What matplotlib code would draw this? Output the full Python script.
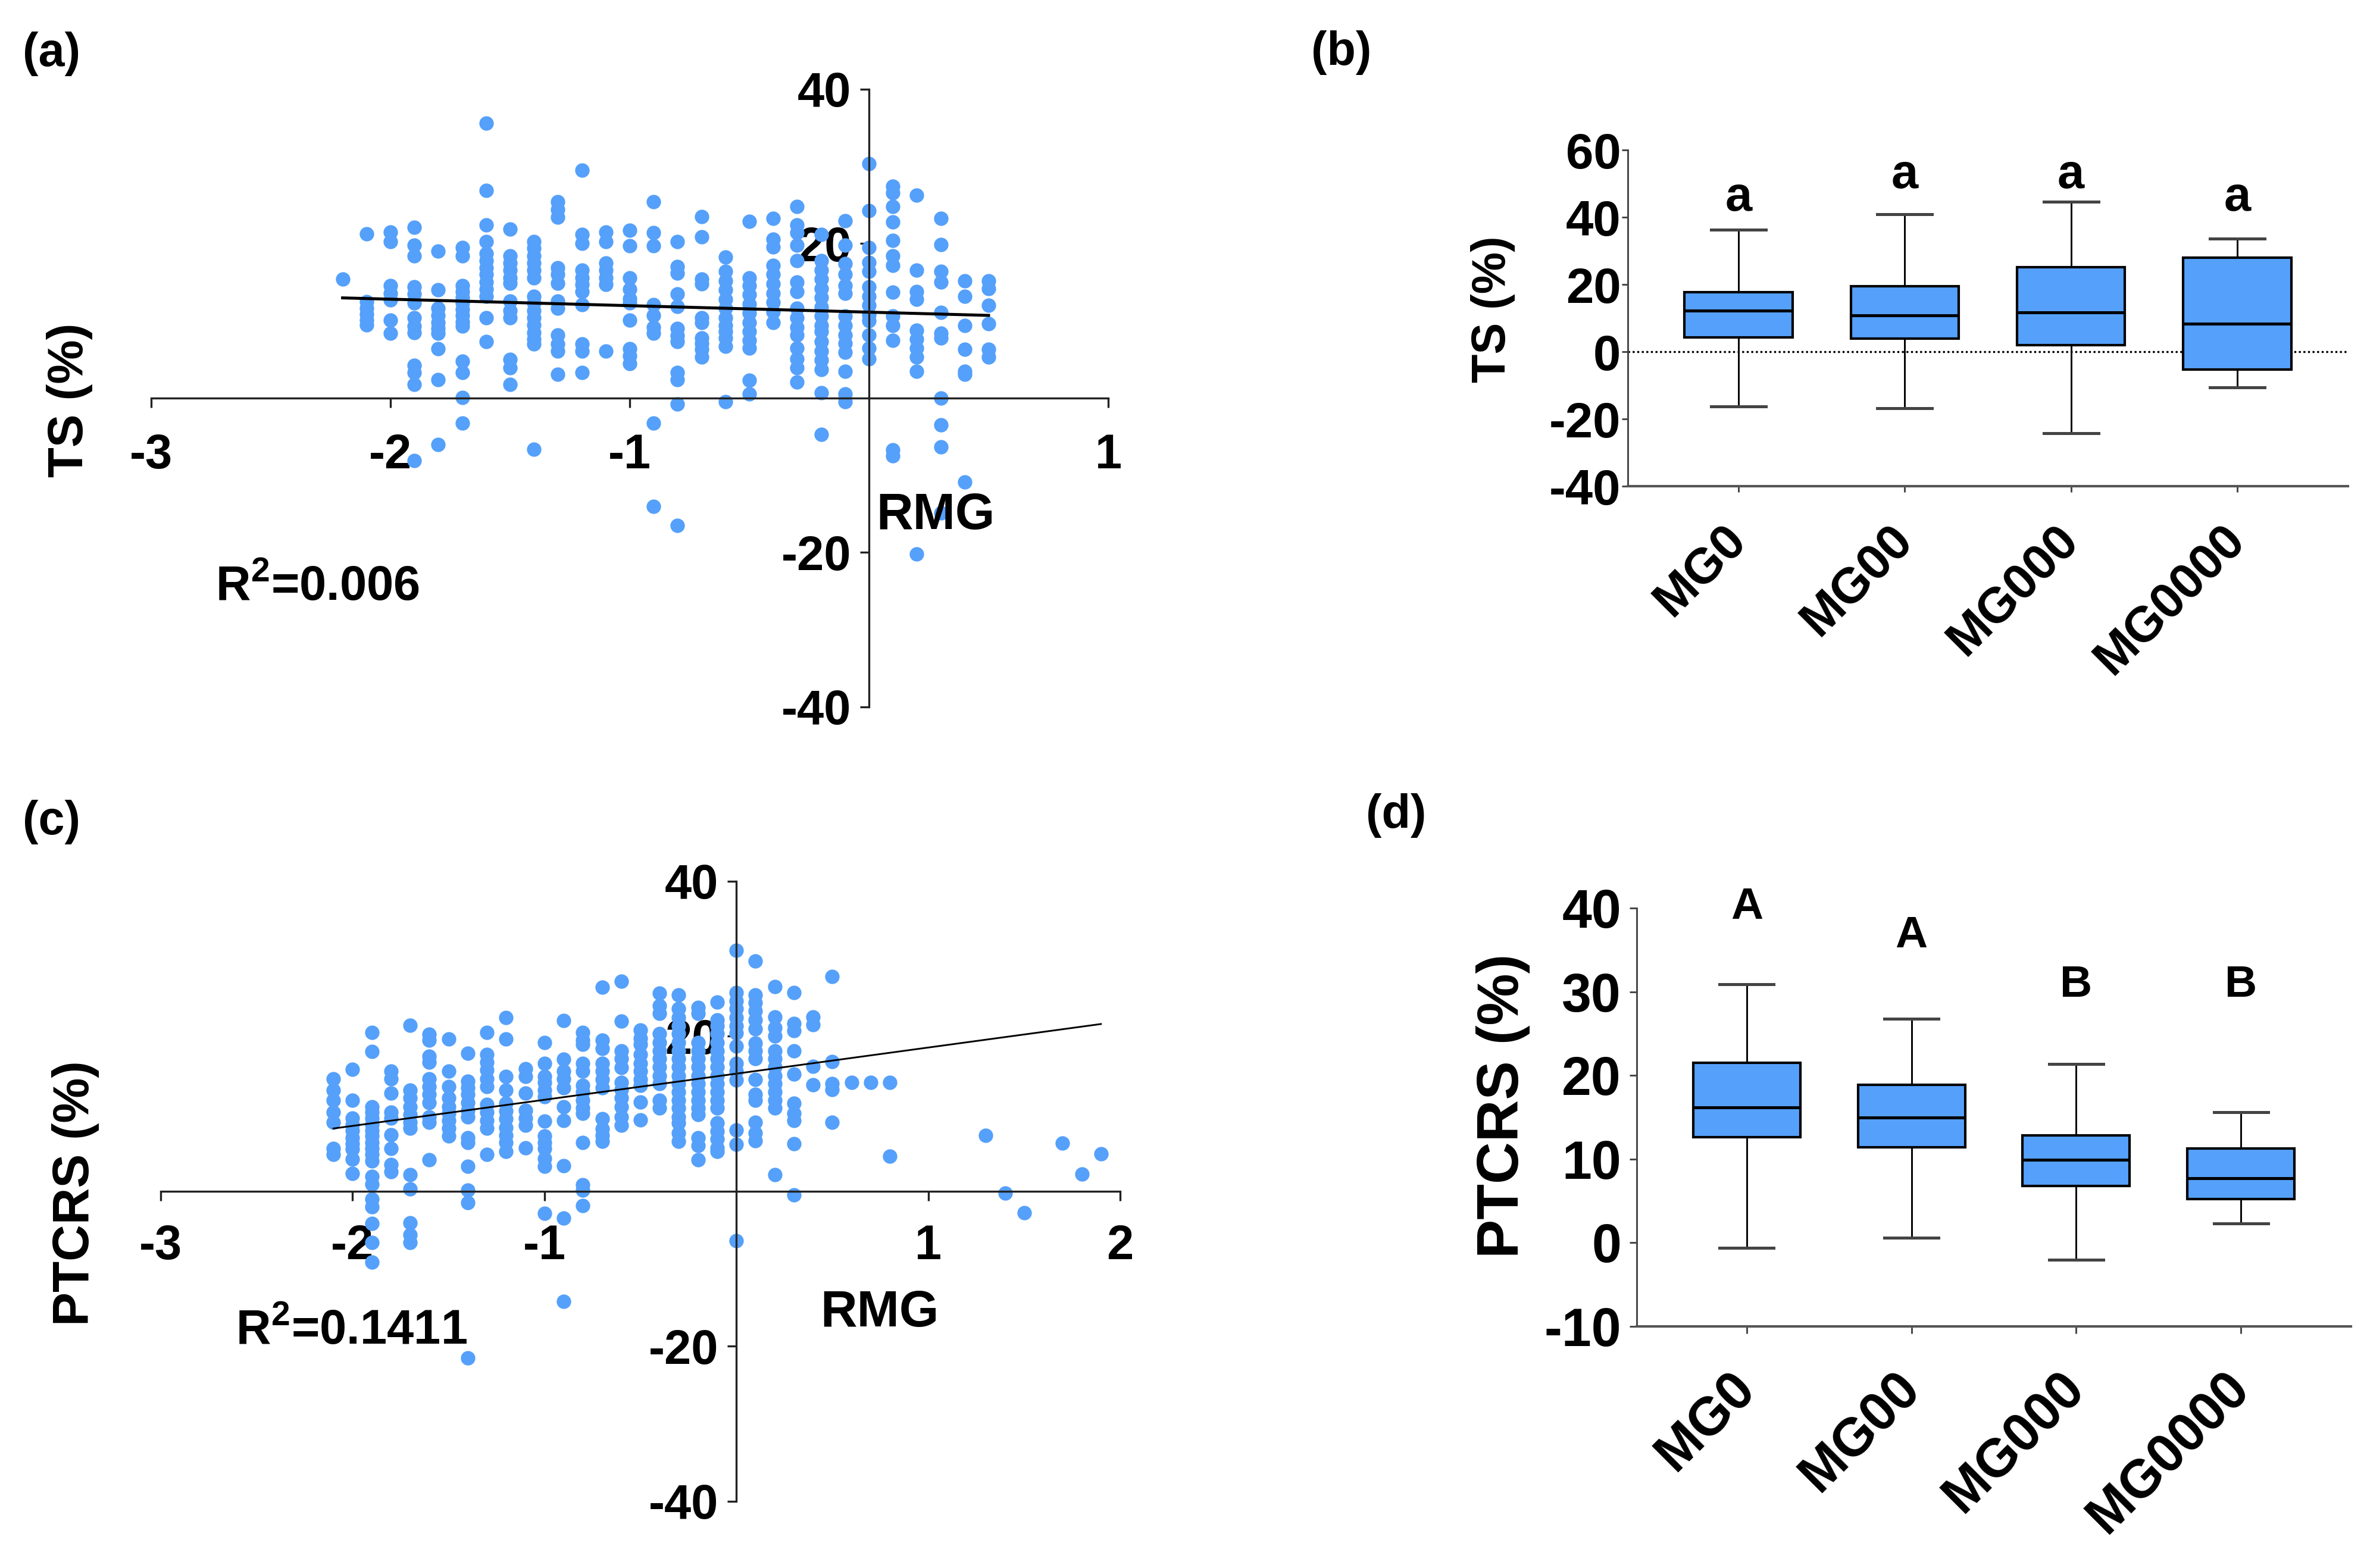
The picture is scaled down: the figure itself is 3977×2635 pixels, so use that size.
import numpy as np
import matplotlib.pyplot as plt

plt.rcParams['font.family'] = ['Liberation Sans', 'DejaVu Sans']
plt.rcParams['font.weight'] = 'bold'
plt.rcParams['axes.unicode_minus'] = False
plt.rcParams['mathtext.fontset'] = 'custom'
plt.rcParams['mathtext.rm'] = 'Liberation Sans:bold'
plt.rcParams['mathtext.bf'] = 'Liberation Sans:bold'

blue = '#55A0FA'

#%% data (a): TS against RMG, one list of TS values per RMG column
rmg_a = [-2.2, -2.1, -2.0, -1.9, -1.8, -1.7, -1.6, -1.5, -1.4, -1.3, -1.2, -1.1, -1.0, -0.9,
         -0.8, -0.7, -0.6, -0.5, -0.4, -0.3, -0.2, -0.1, 0.0, 0.1, 0.2, 0.3, 0.4, 0.5]
ts_a = [
    [15.4],
    [21.3, 12.5, 11.6, 10.9, 10.1, 9.5],
    [21.5, 20.3, 14.6, 13.6, 12.7, 10.1, 8.4],
    [22.1, 19.8, 18.4, 14.4, 13.5, 12.3, 10.4, 9.3, 8.5, 4.2, 3.3, 1.8, -8.1],
    [19.0, 14.0, 11.6, 10.7, 9.8, 9.0, 8.4, 6.4, 2.4, -6.0],
    [19.5, 18.4, 14.6, 13.8, 13.0, 12.3, 11.5, 10.7, 9.9, 9.3, 4.8, 3.3, 0.1, -3.2],
    [35.6, 26.9, 22.4, 20.3, 18.7, 17.8, 16.9, 16.0, 15.0, 14.1, 13.2, 10.4, 7.3],
    [21.9, 18.4, 17.5, 16.6, 15.6, 14.9, 12.6, 11.3, 10.4, 5.0, 3.9, 1.8],
    [20.3, 19.4, 18.4, 17.5, 16.6, 15.6, 13.2, 12.3, 11.3, 10.4, 9.5, 8.5, 7.6, 7.0, -6.6],
    [25.4, 24.4, 23.4, 16.9, 16.0, 14.9, 12.6, 11.6, 8.2, 7.0, 6.1, 3.1],
    [29.5, 21.2, 20.0, 16.6, 15.6, 14.7, 13.8, 12.1, 7.0, 6.1, 3.3],
    [21.5, 20.3, 17.5, 16.6, 15.6, 14.7, 6.1],
    [21.7, 19.7, 15.6, 14.1, 12.9, 12.3, 10.1, 6.4, 5.5, 4.5],
    [25.4, 21.4, 19.7, 12.1, 10.7, 9.2, 8.4, -3.2, -14.0],
    [20.3, 17.0, 16.2, 13.5, 11.9, 9.0, 8.1, 7.3, 3.3, 2.4, -0.8, -16.5],
    [23.5, 20.9, 15.4, 14.8, 10.4, 9.8, 7.8, 7.1, 6.3, 5.3],
    [18.3, 16.4, 15.2, 14.0, 12.8, 11.6, 10.4, 9.4, 8.6, 7.8, 6.7, -0.5],
    [22.9, 15.6, 14.6, 13.4, 12.2, 11.0, 9.8, 8.6, 7.5, 6.5, 2.3, 0.5],
    [23.3, 20.6, 19.6, 17.2, 16.0, 14.8, 13.6, 12.4, 11.2, 9.8],
    [24.8, 22.4, 21.4, 19.8, 17.8, 15.0, 13.8, 11.6, 10.4, 9.2, 8.2, 6.5, 5.1, 3.9, 2.1],
    [21.2, 17.8, 16.6, 15.4, 14.2, 13.0, 11.8, 10.6, 9.4, 8.6, 7.3, 6.1, 4.9, 3.7, 0.7, -4.7],
    [23.0, 19.8, 17.4, 16.0, 14.6, 13.6, 10.6, 9.4, 8.2, 7.1, 5.9, 3.5, 0.5, -0.5],
    [30.4, 24.3, 19.5, 17.6, 16.4, 14.4, 13.2, 12.0, 10.8, 10.0, 8.2, 6.5, 5.1],
    [27.4, 26.6, 24.8, 22.8, 20.4, 18.4, 17.2, 13.7, 10.6, 9.4, 7.5, -6.7, -7.5],
    [26.3, 16.6, 13.8, 12.8, 8.8, 7.6, 6.5, 5.3, 3.5, -20.2],
    [23.3, 19.9, 16.4, 15.0, 11.1, 8.4, 7.8, 0.0, -3.5, -6.3, -14.9],
    [15.2, 13.2, 9.4, 6.3, 3.5, 3.1, -10.9],
    [15.2, 14.2, 12.0, 9.6, 6.3, 5.3],
]
fit_a = (-0.84, 11.13)   # slope, intercept of the drawn regression line
r2_a = '0.006'

#%% data (c): PTCRS against RMG
rmg_c = [-2.1, -2.0, -1.9, -1.8, -1.7, -1.6, -1.5, -1.4, -1.3, -1.2, -1.1, -1.0, -0.9, -0.8,
         -0.7, -0.6, -0.5, -0.4, -0.3, -0.2, -0.1, 0.0, 0.1, 0.2, 0.3, 0.4, 0.5, 0.6, 0.7, 0.8,
         1.3, 1.4, 1.5, 1.7, 1.8, 1.9]
ptcrs_c = [
    [14.5, 13.0, 11.7, 10.2, 8.9, 5.5, 4.7],
    [15.7, 11.7, 9.4, 8.6, 7.8, 6.9, 6.1, 5.4, 4.1, 2.3],
    [20.5, 18.0, 10.9, 10.2, 9.4, 8.6, 7.8, 7.1, 6.3, 5.5, 4.7, 3.9, 1.9, 0.9, -1.0, -2.0, -4.2, -6.6, -9.2],
    [15.5, 14.5, 12.6, 10.2, 9.4, 7.3, 5.5, 3.4, 2.5],
    [21.4, 13.0, 12.0, 10.9, 9.9, 8.9, 8.1, 2.1, 0.3, -4.1, -5.6, -6.6],
    [20.2, 19.5, 17.4, 16.6, 14.5, 13.5, 12.5, 11.4, 9.6, 8.9, 4.0],
    [19.6, 15.5, 13.5, 12.0, 10.9, 10.0, 9.1, 8.1, 7.1],
    [17.8, 14.2, 13.3, 12.5, 11.4, 10.4, 9.6, 6.9, 6.3, 3.2, 0.1, -1.5, -21.5],
    [20.5, 17.6, 16.6, 15.6, 14.5, 13.5, 11.2, 10.2, 9.1, 8.1, 4.7],
    [22.4, 19.6, 14.8, 13.0, 11.3, 10.3, 9.3, 8.2, 7.2, 6.3, 5.1],
    [15.8, 14.8, 12.6, 10.4, 9.4, 8.5, 5.6],
    [19.2, 16.5, 14.8, 14.0, 13.0, 12.2, 9.0, 7.1, 6.3, 5.5, 4.2, 3.2, -2.9],
    [22.0, 17.0, 15.5, 14.5, 13.3, 10.9, 9.1, 3.3, -3.5, -14.2],
    [20.5, 19.5, 18.9, 16.5, 15.5, 13.6, 12.8, 11.7, 10.7, 10.0, 6.3, 0.8, 0.1, -1.9],
    [26.3, 19.5, 18.4, 16.5, 15.5, 14.4, 13.3, 9.3, 8.0, 7.2, 6.4],
    [27.1, 21.9, 18.1, 17.1, 15.9, 14.0, 13.1, 12.0, 10.9, 9.6, 8.5],
    [20.8, 19.7, 18.9, 17.6, 16.5, 15.5, 14.4, 13.6, 11.5, 9.2],
    [25.5, 23.9, 22.9, 20.3, 19.2, 18.1, 17.1, 16.0, 14.9, 13.9, 11.7, 10.7],
    [25.3, 23.5, 22.4, 21.3, 20.3, 19.2, 18.1, 17.1, 16.0, 14.9, 13.9, 12.8, 11.7, 10.7, 9.6, 8.8, 7.5, 6.4],
    [23.7, 22.9, 19.2, 18.1, 17.1, 16.0, 14.9, 13.9, 12.8, 11.7, 10.7, 9.9, 6.9, 5.9, 4.0],
    [24.4, 22.1, 21.3, 20.3, 19.2, 18.1, 17.1, 16.0, 14.9, 13.9, 12.8, 11.7, 10.7, 8.8, 7.7, 6.7, 5.6, 5.1],
    [31.1, 25.6, 24.5, 23.5, 22.4, 21.3, 20.4, 18.7, 16.5, 15.5, 14.3, 7.9, 6.0, -6.4],
    [29.7, 25.3, 24.3, 23.2, 22.1, 20.9, 19.1, 18.1, 17.1, 14.4, 12.5, 11.7, 8.9, 7.5, 6.5],
    [26.4, 22.5, 21.1, 20.0, 18.1, 17.1, 16.0, 14.9, 13.9, 12.8, 11.7, 10.7, 2.1],
    [25.6, 21.6, 20.7, 18.1, 15.1, 11.3, 10.0, 9.1, 6.1, -0.5],
    [22.5, 21.5, 16.1, 13.7],
    [27.7, 16.7, 13.9, 13.1, 8.9],
    [14.0],
    [14.0],
    [14.0, 4.5],
    [7.2],
    [-0.3],
    [-2.8],
    [6.2],
    [2.2],
    [4.8],
]
fit_c = (3.37, 15.15)
r2_c = '0.1411'

#%% data (b) and (d): box plots per group
groups = ['MG0', 'MG00', 'MG000', 'MG0000']

ts_low = [-16.2, -16.8, -24.3, -10.7]
ts_q1 = [4.2, 3.9, 2.0, -5.3]
ts_med = [12.3, 10.8, 11.6, 8.3]
ts_q3 = [17.7, 19.4, 25.1, 27.9]
ts_high = [36.2, 40.8, 44.6, 33.6]
ts_letters = ['a', 'a', 'a', 'a']
ts_letter_y = [45.7, 52.4, 52.4, 45.7]

pt_low = [-0.6, 0.6, -2.0, 2.3]
pt_q1 = [12.6, 11.4, 6.8, 5.2]
pt_med = [16.2, 15.0, 9.9, 7.7]
pt_q3 = [21.5, 18.9, 12.8, 11.3]
pt_high = [30.9, 26.8, 21.4, 15.6]
pt_letters = ['A', 'A', 'B', 'B']
pt_letter_y = [40.1, 36.7, 30.8, 30.8]


def scatter_panel(ax, cols, vals, fit, r2, ylabel, xlim, xticks, lw_fit,
                  ylab_pos, rmg_pos, r2_pos, ylab_size, xpad):
    xs = np.concatenate([[c] * len(v) for c, v in zip(cols, vals)])
    ys = np.concatenate(vals)
    ax.scatter(xs, ys, s=34, color=blue, linewidths=0, zorder=2)
    xx = np.array([xs.min(), xs.max()])
    ax.plot(xx, fit[0] * xx + fit[1], color='black', lw=lw_fit, zorder=2.1)

    ax.set_xlim(*xlim)
    ax.set_ylim(-40, 40)
    for s in ['top', 'right']:
        ax.spines[s].set_visible(False)
    ax.spines['left'].set_position(('data', 0))
    ax.spines['bottom'].set_position(('data', 0))
    for s in ['left', 'bottom']:
        ax.spines[s].set_linewidth(0.8)
        ax.spines[s].set_color('#222222')
    ax.set_xticks(xticks)
    ax.set_yticks([-40, -20, 20, 40])
    ax.tick_params(axis='x', direction='out', length=3.8, width=0.8, pad=xpad - 0.4,
                   labelsize=19.5, color='#222222')
    ax.tick_params(axis='y', direction='out', length=3.6, width=0.8, pad=3.5,
                   labelsize=19.5, color='#222222')
    ax.patch.set_visible(False)

    ax.text(ylab_pos[0], ylab_pos[1], ylabel, transform=ax.transAxes, rotation=90,
            ha='center', va='center', fontsize=ylab_size, fontweight='bold')
    ax.text(rmg_pos[0], rmg_pos[1], 'RMG', transform=ax.transAxes,
            ha='center', va='center', fontsize=20.5, fontweight='bold')
    ax.text(r2_pos[0], r2_pos[1], r'R$^{\mathbf{2}}$=' + r2, transform=ax.transAxes,
            ha='left', va='center', fontsize=19.5, fontweight='bold')


def box_panel(ax, low, q1, med, q3, high, letters, letter_y, ylim, yticks, ylabel,
              tick_size, ylab_size, letter_size, xpad, ypad, tlen):
    stats = [dict(whislo=a, q1=b, med=c, q3=d, whishi=e, fliers=[])
             for a, b, c, d, e in zip(low, q1, med, q3, high)]
    pos = np.arange(1, len(groups) + 1)
    ax.bxp(stats, positions=pos, widths=0.65, patch_artist=True, showfliers=False,
           boxprops=dict(facecolor=blue, edgecolor='black', linewidth=1.0),
           medianprops=dict(color='black', linewidth=1.2),
           whiskerprops=dict(color='black', linewidth=0.7),
           capprops=dict(color='#444444', linewidth=1.2),
           capwidths=0.33, manage_ticks=False, zorder=3)
    for p, t, y in zip(pos, letters, letter_y):
        ax.text(p, y, t, ha='center', va='center', fontsize=letter_size, fontweight='bold')

    ax.set_xlim(0.333, len(groups) + 0.667)
    ax.set_ylim(*ylim)
    for s in ['top', 'right']:
        ax.spines[s].set_visible(False)
    ax.spines['left'].set_color('#444444')
    ax.spines['left'].set_linewidth(0.7)
    ax.spines['bottom'].set_color('#555555')
    ax.spines['bottom'].set_linewidth(1.0)
    ax.set_yticks(yticks)
    ax.set_xticks(pos)
    ax.set_xticklabels(groups, rotation=45, ha='right', va='center', rotation_mode='anchor')
    ax.tick_params(axis='x', direction='out', length=tlen, width=0.7, pad=xpad,
                   labelsize=tick_size, color='#444444')
    ax.tick_params(axis='y', direction='out', length=tlen, width=0.7, pad=ypad,
                   labelsize=tick_size, color='#444444')
    ax.text(-0.187, 0.527, ylabel, transform=ax.transAxes, rotation=90,
            ha='center', va='center', fontsize=ylab_size, fontweight='bold')


fig = plt.figure(figsize=(3977 / 300, 2635 / 300), dpi=300)

ax_a = fig.add_axes([0.06387, 0.54915, 0.40432, 0.39393])
scatter_panel(ax_a, rmg_a, ts_a, fit_a, r2_a, 'TS (%)', (-3, 1), [-3, -2, -1, 1], 1.2,
              (-0.0852, 0.497), (0.8197, 0.3092), (0.0672, 0.1936), 20, 10.8)

ax_c = fig.add_axes([0.06789, 0.04266, 0.40533, 0.39545])
scatter_panel(ax_c, rmg_c, ptcrs_c, fit_c, r2_c, 'PTCRS (%)', (-3, 2), [-3, -2, -1, 1, 2], 0.7,
              (-0.0887, 0.4967), (0.7494, 0.3029), (0.0782, 0.2741), 20.5, 9.8)

ax_b = fig.add_axes([0.68770, 0.68994, 0.30425, 0.21442])
ax_b.axhline(0, color='black', lw=0.8, ls=(0, (1, 1.3)), zorder=1)
box_panel(ax_b, ts_low, ts_q1, ts_med, ts_q3, ts_high, ts_letters, ts_letter_y,
          (-40, 60), [-40, -20, 0, 20, 40, 60], 'TS (%)', 20, 19, 19.5, 16.5, 0.5, 2.3)

ax_d = fig.add_axes([0.69148, 0.15408, 0.30174, 0.26679])
box_panel(ax_d, pt_low, pt_q1, pt_med, pt_q3, pt_high, pt_letters, pt_letter_y,
          (-10, 40), [-10, 0, 10, 20, 30, 40], 'PTCRS (%)', 21.5, 23.5, 18, 19, 3.4, 2.9)

for lab, x, y in [('(a)', 0.00955, 0.9658), ('(b)', 0.5539, 0.9666),
                  ('(c)', 0.00955, 0.4759), ('(d)', 0.5771, 0.4797)]:
    fig.text(x, y, lab, ha='left', va='center', fontsize=19, fontweight='bold')

fig.savefig('out.png', dpi=300)
